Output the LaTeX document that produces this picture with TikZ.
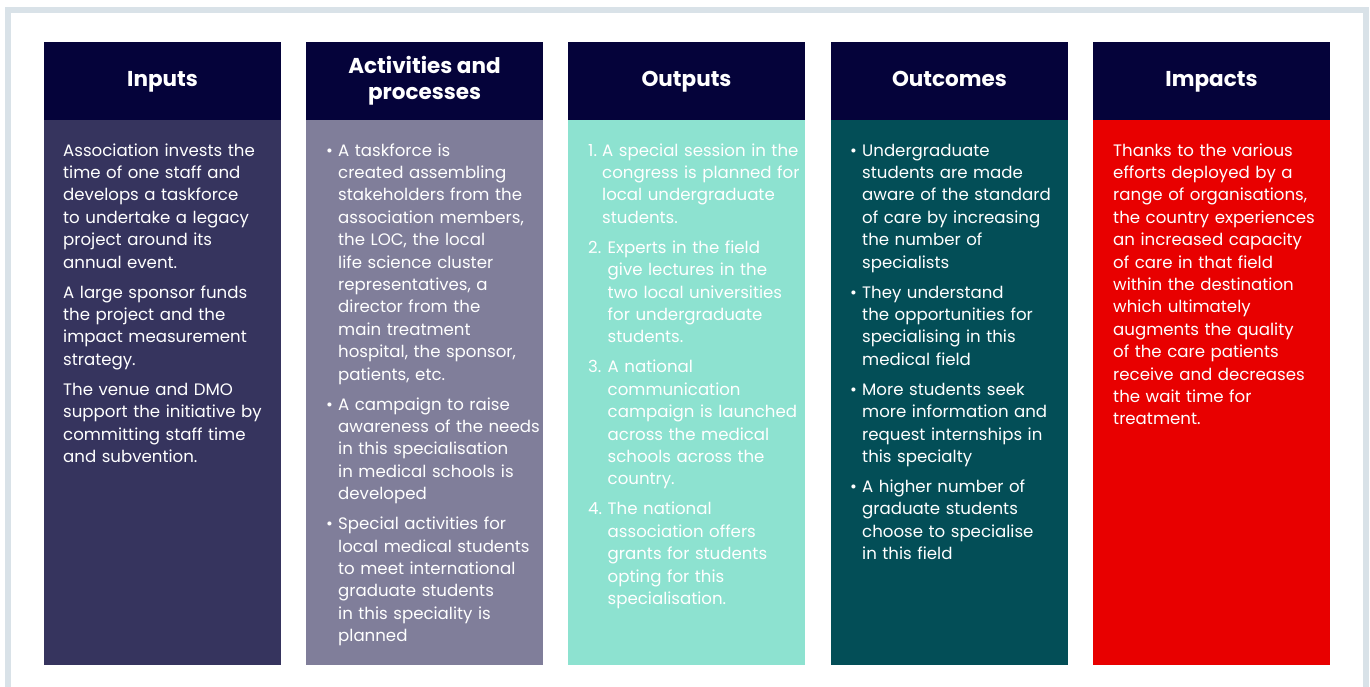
\documentclass[tikz,border=0pt]{standalone}
\usepackage{fontspec}
\setmainfont{Poppins}
\usepackage{xcolor}
\definecolor{headnavy}{HTML}{05033A}
\definecolor{inputcol}{HTML}{36345E}
\definecolor{activcol}{HTML}{807E9A}
\definecolor{outputcol}{HTML}{8DE2D0}
\definecolor{outcomecol}{HTML}{034E57}
\definecolor{impactcol}{HTML}{E80000}
\definecolor{framegray}{HTML}{D9E2E8}
% item helpers for the column texts
\newcommand{\nextpar}{\par\vspace{7.6pt}}
\newcommand{\bul}{\hangindent=12pt\hangafter=1\noindent\makebox[12pt][l]{\strut\textbullet}}
\newcommand{\num}[2]{\hangindent=#2\hangafter=1\noindent\makebox[#2][l]{\strut#1}}

\begin{document}
\begin{tikzpicture}[x=1pt,y=-1pt,
  head/.style={fill=headnavy,minimum width=237pt,minimum height=78pt,inner sep=0pt,
    text=white,align=center,font=\fontsize{21.5}{26}\selectfont\bfseries},
  col/.style={minimum width=237pt,minimum height=545pt,inner sep=0pt},
  body/.style={anchor=north west,inner sep=0pt,text width=245pt,align=left,
    text=white,font=\fontsize{16.6}{22.4}\selectfont}]
  \useasboundingbox (0,0) rectangle (1370,687);
  \clip (0,0) rectangle (1370,687);
  \draw[framegray,line width=6pt] (8,10) rectangle (1366,720);

  \node[head] (inhead) at (162.5,81) {\strut Inputs};
  \node[head] (acthead) at (424.5,81) {\strut Activities and\\\strut processes};
  \node[head] (outhead) at (686.5,81) {\strut Outputs};
  \node[head] (ochead) at (949.5,81) {\strut Outcomes};
  \node[head] (imphead) at (1211.5,81) {\strut Impacts};

  \node[col,fill=inputcol] (incol) at (162.5,392.5) {};
  \node[col,fill=activcol] (actcol) at (424.5,392.5) {};
  \node[col,fill=outputcol] (outcol) at (686.5,392.5) {};
  \node[col,fill=outcomecol] (occol) at (949.5,392.5) {};
  \node[col,fill=impactcol] (impcol) at (1211.5,392.5) {};

  \node[body] (intext) at (63,140.3) {\strut Association invests the\newline time of one staff and\newline
    develops a taskforce\newline to undertake a legacy\newline project around its\newline annual event.\nextpar
    A large sponsor funds\newline the project and the\newline impact measurement\newline strategy.\nextpar
    The venue and DMO\newline support the initiative by\newline committing staff time\newline and subvention.\par};

  \node[body] (acttext) at (326,140.3) {\bul A taskforce is\newline created assembling\newline
    stakeholders from the\newline association members,\newline the LOC, the local\newline
    life science cluster\newline representatives, a\newline director from the\newline
    main treatment\newline hospital, the sponsor,\newline patients, etc.\nextpar
    \bul A campaign to raise\newline awareness of the needs\newline in this specialisation\newline
    in medical schools is\newline developed\nextpar
    \bul Special activities for\newline local medical students\newline to meet international\newline
    graduate students\newline in this speciality is\newline planned\par};

  \node[body] (outtext) at (588,140.3) {\num{1.}{14pt}A special session in the\newline
    congress is planned for\newline local undergraduate\newline students.\nextpar
    \num{2.}{19.5pt}Experts in the field\newline give lectures in the\newline two local universities\newline
    for undergraduate\newline students.\nextpar
    \num{3.}{19.5pt}A national\newline communication\newline campaign is launched\newline
    across the medical\newline schools across the\newline country.\nextpar
    \num{4.}{19.5pt}The national\newline association offers\newline grants for students\newline
    opting for this\newline specialisation.\par};

  \node[body] (octext) at (850,140.3) {\bul Undergraduate\newline students are made\newline
    aware of the standard\newline of care by increasing\newline the number of\newline specialists\nextpar
    \bul They understand\newline the opportunities for\newline specialising in this\newline medical field\nextpar
    \bul More students seek\newline more information and\newline request internships in\newline this specialty\nextpar
    \bul A higher number of\newline graduate students\newline choose to specialise\newline in this field\par};

  \node[body] (imptext) at (1113,140.3) {\strut Thanks to the various\newline efforts deployed by a\newline
    range of organisations,\newline the country experiences\newline an increased capacity\newline
    of care in that field\newline within the destination\newline which ultimately\newline
    augments the quality\newline of the care patients\newline receive and decreases\newline
    the wait time for\newline treatment.\par};
\end{tikzpicture}
\end{document}
